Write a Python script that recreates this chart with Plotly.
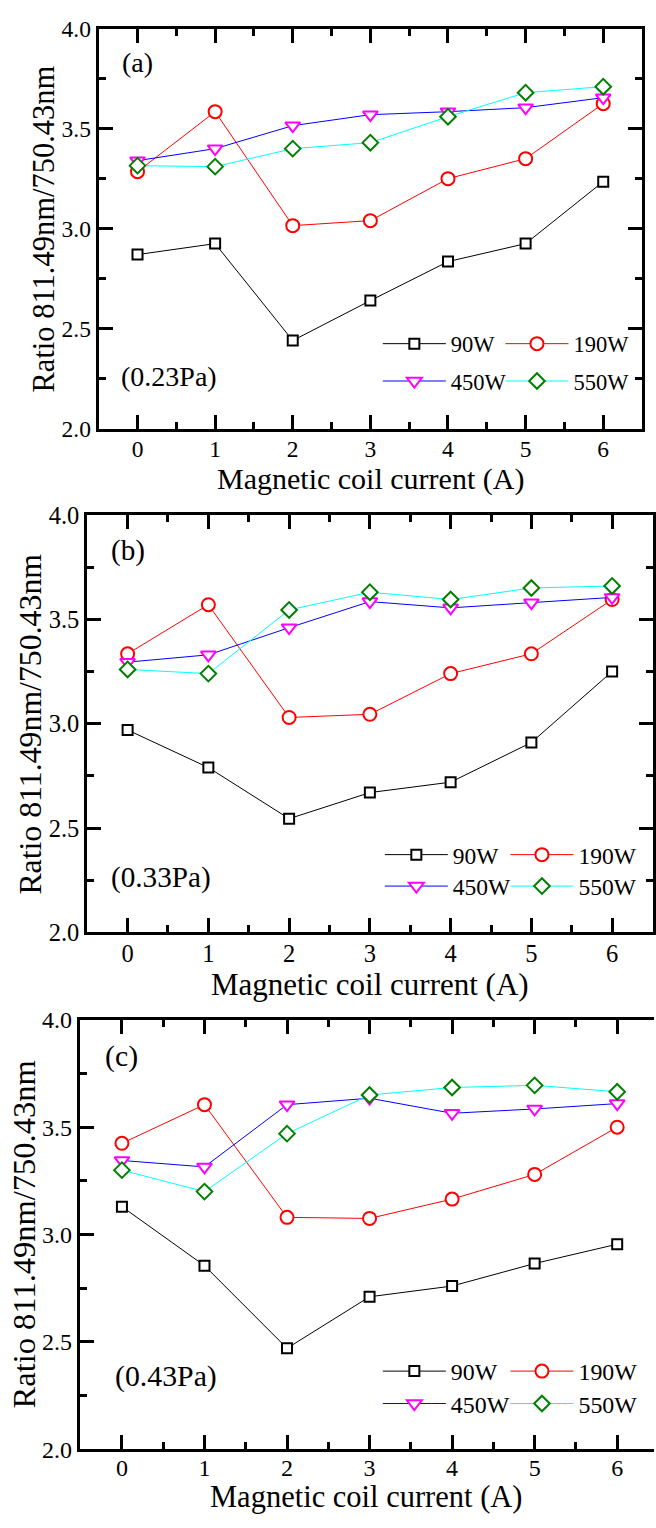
import plotly.graph_objects as go

W, H = 656, 1528
FONT = "Liberation Serif, Times New Roman, Times, serif"

# Magnetic coil current (A)
currents = [0, 1, 2, 3, 4, 5, 6]
powers = ["90W", "190W", "450W", "550W"]
pressures = ["(0.23Pa)", "(0.33Pa)", "(0.43Pa)"]
panel_tags = ["(a)", "(b)", "(c)"]

# Ratio 811.49nm / 750.43nm at 0.23 Pa
ratio_023_90W = [2.87, 2.925, 2.44, 2.64, 2.835, 2.925, 3.235]
ratio_023_190W = [3.285, 3.585, 3.015, 3.04, 3.25, 3.35, 3.625]
ratio_023_450W = [3.34, 3.40, 3.515, 3.57, 3.585, 3.605, 3.655]
ratio_023_550W = [3.315, 3.31, 3.40, 3.43, 3.56, 3.68, 3.71]

# Ratio at 0.33 Pa
ratio_033_90W = [2.97, 2.79, 2.545, 2.67, 2.72, 2.91, 3.25]
ratio_033_190W = [3.335, 3.57, 3.03, 3.045, 3.24, 3.335, 3.595]
ratio_033_450W = [3.295, 3.33, 3.46, 3.585, 3.555, 3.58, 3.605]
ratio_033_550W = [3.26, 3.24, 3.545, 3.63, 3.595, 3.65, 3.66]

# Ratio at 0.43 Pa
ratio_043_90W = [3.13, 2.855, 2.47, 2.71, 2.76, 2.865, 2.955]
ratio_043_190W = [3.425, 3.605, 3.08, 3.075, 3.165, 3.28, 3.50]
ratio_043_450W = [3.345, 3.315, 3.605, 3.635, 3.565, 3.585, 3.61]
ratio_043_550W = [3.30, 3.20, 3.47, 3.65, 3.685, 3.695, 3.665]

panels = [
    [ratio_023_90W, ratio_023_190W, ratio_023_450W, ratio_023_550W],
    [ratio_033_90W, ratio_033_190W, ratio_033_450W, ratio_033_550W],
    [ratio_043_90W, ratio_043_190W, ratio_043_450W, ratio_043_550W],
]

line_colors = ["black", "red", "blue", "cyan"]
marker_colors = ["black", "red", "magenta", "green"]
symbols = ["square", "circle", "triangle-down", "diamond"]
marker_sizes = [10, 13, 13, 12]


def px_x(v):
    return v / W


def px_y(v):
    return 1 - v / H


# plot-area boxes in pixels: (left, right, top, bottom) and x range
boxes = [
    (99, 644, 16, 423, [-0.5, 6.5]),
    (87.5, 654.5, 511, 936, [-0.5, 6.5]),
    (80, 656, 1025, 1462, [-0.511, 6.446]),
]
# each panel is drawn at a slightly different scale
scale = [1.0, 1.044, 1.064]

# legend placement per panel: (col0 origin, col1 origin, row0 y, row1 y)
legend_pos = [
    (379, 502, 337, 375),
    (381, 507, 857, 889),
    (379, 507, 1383, 1416),
]
pressure_pos = [(0.41, 2.26), (0.41, 2.264), (0.53, 2.34)]
ytitle_x = [44, 31, 24]
xtitle_y = [474, 989, 1511]
xtitle_size = [30, 31, 30.5]
xlabel_standoff = [-3, -3, -5]
tick_size = [23.5, 24.5, 24]

fig = go.Figure()

layout = dict(
    width=W, height=H,
    margin=dict(l=0, r=0, t=0, b=0),
    paper_bgcolor="white", plot_bgcolor="white",
    font=dict(family=FONT, color="black"),
    showlegend=True,
)
annotations = []

for p, series in enumerate(panels):
    left, right, top, bottom, xr = boxes[p]
    sc = scale[p]
    sfx = "" if p == 0 else str(p + 1)
    xa, ya = "x" + sfx, "y" + sfx
    axis_common = dict(
        showline=True, linecolor="black", linewidth=3,
        ticks="inside", ticklen=14, tickwidth=3, tickcolor="black",
        showgrid=False, zeroline=False,
        tickfont=dict(family=FONT, size=tick_size[p], color="black"),
    )
    layout["xaxis" + sfx] = dict(
        axis_common, domain=[px_x(left), px_x(right)], range=xr,
        anchor=ya, mirror="ticks", tick0=0, dtick=1, ticklabelstandoff=xlabel_standoff[p],
        minor=dict(ticks="inside", ticklen=7, tickwidth=3, tickcolor="black", dtick=0.5, showgrid=False),
    )
    layout["yaxis" + sfx] = dict(
        axis_common, domain=[px_y(bottom), px_y(top)], range=[2.0, 4.0],
        anchor=xa, mirror=("ticks" if p < 2 else False), tick0=2, dtick=0.5, tickformat=".1f",
        minor=dict(ticks="inside", ticklen=7, tickwidth=3, tickcolor="black", dtick=0.25, showgrid=False),
    )

    for s, vals in enumerate(series):
        k = p * 4 + s + 1
        lg = "legend" if k == 1 else f"legend{k}"
        fig.add_trace(go.Scatter(
            x=currents, y=vals, name=powers[s], xaxis=xa, yaxis=ya,
            mode="lines+markers", legend=lg,
            line=dict(color=line_colors[s], width=1),
            marker=dict(symbol=symbols[s], size=marker_sizes[s], color="white",
                        line=dict(color=marker_colors[s], width=2)),
        ))
        c0, c1, r0, r1 = legend_pos[p]
        layout[lg] = dict(
            x=px_x(c0 if s % 2 == 0 else c1), xanchor="left",
            y=px_y(r0 if s < 2 else r1), yanchor="middle",
            bgcolor="rgba(0,0,0,0)", borderwidth=0, itemwidth=63,
            font=dict(family=FONT, size=round(22.5 * sc, 1), color="black"),
        )

    annotations.append(dict(
        text=panel_tags[p], x=0, y=3.83, xref=xa, yref=ya, showarrow=False,
        font=dict(family=FONT, size=round(28 * sc, 1), color="black"),
        xanchor="center", yanchor="middle",
    ))
    annotations.append(dict(
        text=pressures[p], x=pressure_pos[p][0], y=pressure_pos[p][1], xref=xa, yref=ya,
        showarrow=False, font=dict(family=FONT, size=round(28 * sc, 1), color="black"),
        xanchor="center", yanchor="middle",
    ))
    annotations.append(dict(
        text="Ratio 811.49nm/750.43nm", textangle=-90,
        x=px_x(ytitle_x[p]), y=px_y((top + bottom) / 2), xref="paper", yref="paper",
        showarrow=False, font=dict(family=FONT, size=round(30.5 * sc, 1), color="black"),
        xanchor="center", yanchor="middle",
    ))
    annotations.append(dict(
        text="Magnetic coil current (A)",
        x=px_x((left + right) / 2), y=px_y(xtitle_y[p]), xref="paper", yref="paper",
        showarrow=False, font=dict(family=FONT, size=xtitle_size[p], color="black"),
        xanchor="center", yanchor="middle",
    ))

# right-hand ticks of the last panel (its frame runs past the page edge)
layout["yaxis4"] = dict(
    overlaying="y3", side="right", anchor="x3", range=[2.0, 4.0],
    showline=False, showgrid=False, zeroline=False, showticklabels=False,
    ticks="inside", ticklen=10, tickwidth=3, tickcolor="black", tick0=2, dtick=0.5,
    minor=dict(ticks="inside", ticklen=3, tickwidth=3, tickcolor="black", dtick=0.25, showgrid=False),
)

layout["annotations"] = annotations
fig.update_layout(**layout)
fig.write_html("out.html")
